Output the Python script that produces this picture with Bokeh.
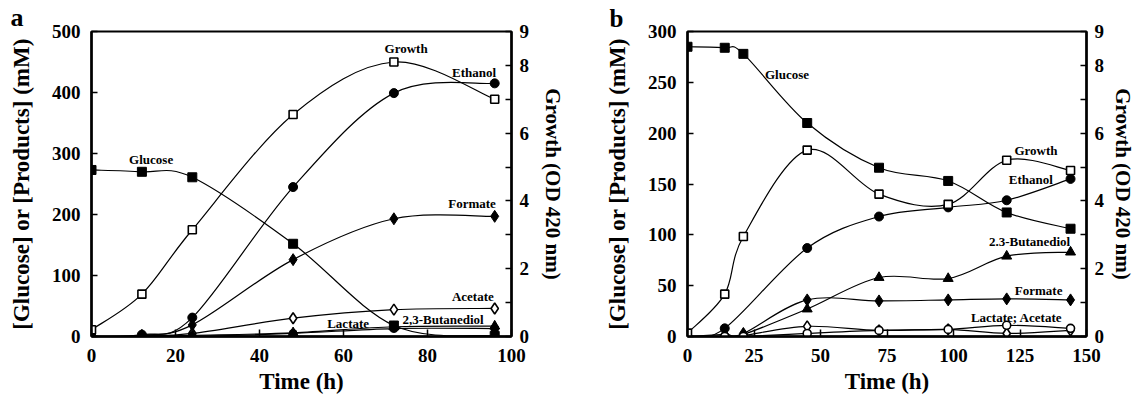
from bokeh.plotting import figure
from bokeh.models import LinearAxis, Range1d, FixedTicker, Label
from bokeh.layouts import row
from bokeh.embed import file_html
from bokeh.resources import INLINE

FONT = "Liberation Serif"

# ---------------- Panel a data ----------------
time_a = [0, 12, 24, 48, 72, 96]
glucose_a = [273, 270, 261, 152, 18, 1]
ethanol_a = [0, 3, 31, 245, 399, 415]
formate_a = [0, 2, 19, 126, 193, 197]
acetate_a = [0, 1, 5, 30, 44, 46]
lactate_a = [0, 0, 0, 5, 13, 13]
butanediol_a = [0, 0, 2, 6, 16, 17]
growth_a = [0.2, 1.25, 3.15, 6.55, 8.1, 7.0]

# ---------------- Panel b data ----------------
time_b = [0, 14, 21, 45, 72, 98, 120, 144]
glucose_b = [285, 284, 278, 210, 166, 153, 122, 106]
ethanol_b = [0, 8, None, 87, 118, 127, 134, 155]
formate_b = [0, 2, 3, 36, 35, 36, 37, 36]
butanediol_b = [0, 0, 2, 27, 58, 57, 79, 83]
lactate_b = [0, 0, 0, 3, 6, 7, 11, 8]
acetate_b = [0, 0, 1, 10, 6, 7, 3, 6]
growth_b = [0.1, 1.25, 2.95, 5.5, 4.2, 3.9, 5.2, 4.9]

# tick values
xticks_a = [0, 20, 40, 60, 80, 100]
yticks_a = [0, 100, 200, 300, 400, 500]
xticks_b = [0, 25, 50, 75, 100, 125, 150]
yticks_b = [0, 50, 100, 150, 200, 250, 300]
od_ticks = [0, 1, 2, 3, 4, 5, 6, 7, 8, 9]
od_hidden = [1, 3, 5, 7]

# series annotations (text, x, y)
labels_a = [("Glucose", 14.2, 290), ("Growth", 74.9, 472), ("Ethanol", 91.1, 433),
            ("Formate", 90.6, 218), ("Acetate", 90.8, 66), ("Lactate", 61.1, 21),
            ("2,3-Butanediol", 83.7, 28)]
labels_b = [("Glucose", 37.4, 258), ("Growth", 131, 183), ("Ethanol", 129.1, 154),
            ("2.3-Butanediol", 128.6, 93.5), ("Formate", 132, 45),
            ("Lactate; Acetate", 123.7, 19)]


def smooth(t, v):
    pts = [(a, b) for a, b in zip(t, v) if b is not None]
    n = len(pts)
    d = dict(x0=[], y0=[], x1=[], y1=[], cx0=[], cy0=[], cx1=[], cy1=[])
    for i in range(n - 1):
        p0 = pts[max(i - 1, 0)]
        p1 = pts[i]
        p2 = pts[i + 1]
        p3 = pts[min(i + 2, n - 1)]
        d["x0"].append(p1[0]); d["y0"].append(p1[1])
        d["x1"].append(p2[0]); d["y1"].append(p2[1])
        d["cx0"].append(p1[0] + (p2[0] - p0[0]) / 6.0)
        d["cy0"].append(p1[1] + (p2[1] - p0[1]) / 6.0)
        d["cx1"].append(p2[0] - (p3[0] - p1[0]) / 6.0)
        d["cy1"].append(p2[1] - (p3[1] - p1[1]) / 6.0)
    return d, pts


def make_panel(fw, fh, bl, br, bt, bb, xmax, ymax, xticks, yticks,
               series, labels, letter, letter_off, letter_size, std_right):
    p = figure(frame_width=fw, frame_height=fh, x_range=Range1d(0, xmax), y_range=Range1d(0, ymax),
               output_backend="svg", toolbar_location=None,
               min_border_left=bl, min_border_right=br, min_border_top=bt, min_border_bottom=bb)
    p.extra_y_ranges = {"growth": Range1d(0, 9)}
    p.grid.visible = False
    p.background_fill_color = "white"
    p.border_fill_color = "white"
    p.outline_line_color = "black"
    p.outline_line_width = 2

    p.title.text = letter
    p.title.align = "left"
    p.title.offset = letter_off
    p.title.standoff = 0
    p.title.text_font = FONT
    p.title.text_font_style = "bold"
    p.title.text_font_size = letter_size
    p.title.text_color = "black"

    p.xaxis.ticker = FixedTicker(ticks=xticks)
    p.yaxis.ticker = FixedTicker(ticks=yticks)
    p.xaxis.axis_label = "Time (h)"
    p.xaxis.axis_label_standoff = 4
    p.yaxis.axis_label = "[Glucose] or [Products] (mM)"
    p.yaxis.axis_label_standoff = 15
    p.yaxis.major_label_standoff = 11

    rax = LinearAxis(y_range_name="growth", ticker=FixedTicker(ticks=od_ticks),
                     major_label_overrides={k: "" for k in od_hidden},
                     axis_label="Growth (OD 420 nm)")
    rax.axis_label_standoff = std_right
    rax.major_label_standoff = 8
    p.add_layout(rax, "right")

    for ax in [p.xaxis[0], p.yaxis[0], rax]:
        ax.axis_line_width = 2.5
        ax.axis_line_color = "black"
        ax.major_tick_in = 6
        ax.major_tick_out = 0
        ax.major_tick_line_width = 1.5
        ax.minor_tick_line_color = None
        ax.major_label_text_font = FONT
        ax.major_label_text_font_style = "bold"
        ax.major_label_text_font_size = "19px"
        ax.major_label_text_color = "black"
        ax.axis_label_text_font = FONT
        ax.axis_label_text_font_style = "bold"
        ax.axis_label_text_color = "black"
    p.xaxis.major_tick_in = 7
    p.xaxis.major_label_standoff = 12
    p.xaxis.axis_label_text_font_size = "23px"
    p.yaxis.axis_label_text_font_size = "23px"
    rax.axis_label_text_font_size = "21px"

    # lines
    for (t, v, marker, size, filled, rng) in series:
        d, pts = smooth(t, v)
        p.bezier(y_range_name=rng, line_color="black", line_width=1.2, **d)
    # markers
    for (t, v, marker, size, filled, rng) in series:
        d, pts = smooth(t, v)
        p.scatter([a for a, b in pts], [b for a, b in pts], marker=marker, size=size,
                  fill_color="black" if filled else "white", line_color="black",
                  line_width=1 if filled else 1.6, y_range_name=rng)

    for (txt, x, y) in labels:
        p.add_layout(Label(x=x, y=y, text=txt, text_align="center", text_baseline="middle",
                           text_font=FONT, text_font_style="bold", text_font_size="13px",
                           text_color="black"))
    return p


series_a = [
    (time_a, glucose_a, "square", 9, True, "default"),
    (time_a, ethanol_a, "circle", 9, True, "default"),
    (time_a, formate_a, "diamond", 12, True, "default"),
    (time_a, acetate_a, "diamond", 11, False, "default"),
    (time_a, lactate_a, "circle", 8, True, "default"),
    (time_a, butanediol_a, "triangle", 10, True, "default"),
    (time_a, growth_a, "square", 8, False, "growth"),
]
series_b = [
    (time_b, glucose_b, "square", 9, True, "default"),
    (time_b, ethanol_b, "circle", 9, True, "default"),
    (time_b, formate_b, "diamond", 12, True, "default"),
    (time_b, butanediol_b, "triangle", 10, True, "default"),
    (time_b, acetate_b, "diamond", 11, False, "default"),
    (time_b, lactate_b, "circle", 8, False, "default"),
    (time_b, growth_b, "square", 8, False, "growth"),
]

pa = make_panel(420, 305, 91, 59, 31, 62, 100, 500, xticks_a, yticks_a, series_a, labels_a,
                "a", -81, "26px", 9)
pb = make_panel(399, 305, 117, 55, 31, 62, 150, 300, xticks_b, yticks_b, series_b, labels_b,
                "b", -78, "25px", 4)

layout = row(pa, pb)
open("out.html", "w").write(file_html(layout, INLINE))
